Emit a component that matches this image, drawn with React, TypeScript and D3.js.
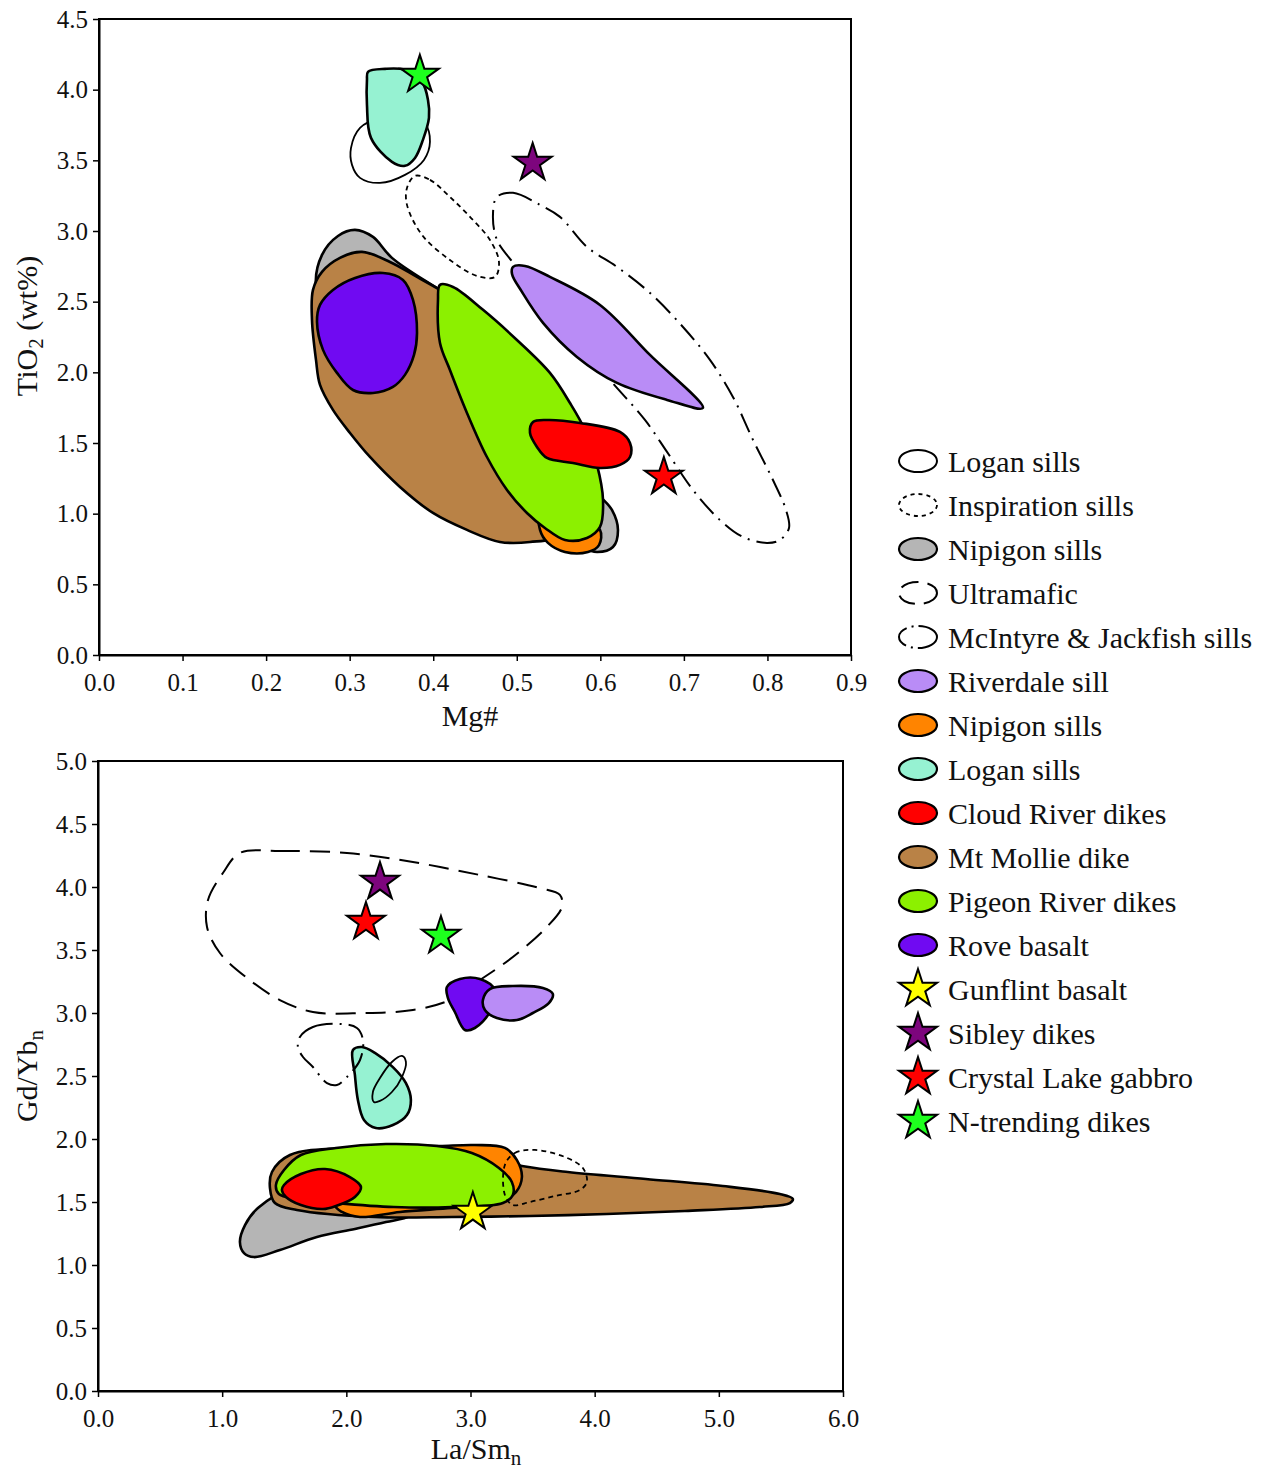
import React, { useRef, useEffect } from 'react';
import * as d3 from 'd3';

type Pt = [number, number];

// ---------- top panel: TiO2 (wt%) vs Mg# ----------
const topXTicks = [0, 0.1, 0.2, 0.3, 0.4, 0.5, 0.6, 0.7, 0.8, 0.9];
const topYTicks = [0, 0.5, 1.0, 1.5, 2.0, 2.5, 3.0, 3.5, 4.0, 4.5];

const topLoganOpen: Pt[] = [
  [0.3016, 3.588], [0.3124, 3.73], [0.3363, 3.8], [0.3662, 3.822], [0.3901, 3.758], [0.3961, 3.631],
  [0.3889, 3.503], [0.3662, 3.397], [0.3363, 3.34], [0.3124, 3.376], [0.3028, 3.468],
];
const topInspiration: Pt[] = [
  [0.3782, 3.39], [0.3961, 3.362], [0.42, 3.241], [0.444, 3.1], [0.4679, 2.937], [0.4787, 2.781],
  [0.4739, 2.675], [0.4524, 2.682], [0.42, 2.795], [0.3866, 2.972], [0.3686, 3.185], [0.3686, 3.305],
];
const topMcIntyre: Pt[] = [
  [0.4763, 3.241], [0.4955, 3.27], [0.5278, 3.185], [0.5517, 3.1], [0.584, 2.887], [0.6199, 2.746],
  [0.6594, 2.562], [0.6989, 2.321], [0.7312, 2.088], [0.7587, 1.826], [0.7827, 1.522], [0.8066, 1.238],
  [0.8222, 1.026], [0.8258, 0.899], [0.815, 0.814], [0.7994, 0.793], [0.7707, 0.835], [0.7432, 0.955],
  [0.7109, 1.168], [0.6798, 1.437], [0.6534, 1.663], [0.6115, 1.946], [0.5517, 2.371], [0.4978, 2.76],
  [0.4763, 2.937], [0.4715, 3.114],
];
const topNipigonGray: Pt[] = [
  [0.2597, 2.618], [0.2669, 2.831], [0.286, 2.965], [0.3064, 3.008], [0.3279, 2.958], [0.3506, 2.81],
  [0.456, 2.371], [0.5517, 1.663], [0.5936, 1.168], [0.6139, 1.026], [0.6211, 0.885], [0.6151, 0.764],
  [0.596, 0.729], [0.57, 0.78], [0.5, 0.98], [0.4, 1.35], [0.32, 1.85], [0.28, 2.3],
];
const topMtMollie: Pt[] = [
  [0.2561, 2.583], [0.2669, 2.711], [0.2884, 2.81], [0.3147, 2.852], [0.3483, 2.781], [0.3806, 2.675],
  [0.4081, 2.583], [0.444, 2.442], [0.5158, 1.663], [0.5577, 1.097], [0.5517, 0.849], [0.5158, 0.8],
  [0.4799, 0.8], [0.4404, 0.885], [0.3997, 1.005], [0.3602, 1.189], [0.3243, 1.401], [0.3004, 1.571],
  [0.28, 1.734], [0.2645, 1.911], [0.2597, 2.088], [0.2549, 2.371],
];
const topRove: Pt[] = [
  [0.2609, 2.357], [0.2645, 2.477], [0.28, 2.583], [0.3064, 2.668], [0.3399, 2.703], [0.3638, 2.654],
  [0.3758, 2.512], [0.3806, 2.279], [0.377, 2.123], [0.3662, 1.982], [0.3518, 1.897], [0.3279, 1.854],
  [0.304, 1.875], [0.2848, 1.996], [0.2681, 2.159],
];
const topNipigonOrange: Pt[] = [
  [0.5278, 0.991], [0.5756, 0.955], [0.5996, 0.885], [0.5984, 0.778], [0.5852, 0.729], [0.5577, 0.729],
  [0.5373, 0.793], [0.5278, 0.885],
];
const topPigeon: Pt[] = [
  [0.4081, 2.619], [0.4237, 2.604], [0.4596, 2.442], [0.5002, 2.229], [0.5397, 1.996], [0.5637, 1.783],
  [0.5816, 1.592], [0.596, 1.345], [0.6032, 1.097], [0.5996, 0.906], [0.584, 0.828], [0.5577, 0.814],
  [0.5337, 0.899], [0.5122, 1.005], [0.4883, 1.168], [0.4643, 1.401], [0.4404, 1.713], [0.42, 2.017],
  [0.4081, 2.208], [0.4057, 2.512],
];
const topCloudRiver: Pt[] = [
  [0.5194, 1.649], [0.5373, 1.663], [0.5756, 1.642], [0.6235, 1.578], [0.6355, 1.5], [0.6355, 1.401],
  [0.6235, 1.345], [0.5996, 1.323], [0.5673, 1.359], [0.5361, 1.394], [0.5242, 1.472], [0.5158, 1.571],
];
const topRiverdale: Pt[] = [
  [0.4955, 2.746], [0.5098, 2.753], [0.5397, 2.675], [0.5996, 2.477], [0.6594, 2.123], [0.7228, 1.748],
  [0.6798, 1.805], [0.6199, 1.925], [0.572, 2.109], [0.5314, 2.35], [0.5062, 2.569], [0.4943, 2.696],
];
const topLoganTeal: Pt[] = [
  [0.3219, 4.126], [0.3423, 4.147], [0.3662, 4.14], [0.3866, 4.055], [0.3937, 3.928], [0.3949, 3.8],
  [0.3877, 3.645], [0.3782, 3.517], [0.3662, 3.461], [0.3506, 3.489], [0.3255, 3.659], [0.3207, 3.892],
  [0.3207, 4.069],
];
const topStars = [
  { key: 'ntrend', x: 0.384, y: 4.105 },
  { key: 'sibley', x: 0.519, y: 3.482 },
  { key: 'crystal', x: 0.676, y: 1.26 },
];

// ---------- bottom panel: Gd/Yb_n vs La/Sm_n ----------
const botXTicks = [0, 1, 2, 3, 4, 5, 6];
const botYTicks = [0, 0.5, 1.0, 1.5, 2.0, 2.5, 3.0, 3.5, 4.0, 4.5, 5.0];

const botUltramafic: Pt[] = [
  [1.143, 4.27], [1.465, 4.286], [2.005, 4.27], [2.536, 4.198], [3.076, 4.095], [3.559, 3.992],
  [3.72, 3.937], [3.736, 3.841], [3.615, 3.683], [3.341, 3.444], [3.076, 3.262], [2.834, 3.103],
  [2.536, 3.024], [2.134, 3.0], [1.731, 3.008], [1.465, 3.103], [1.2, 3.278], [0.982, 3.476],
  [0.878, 3.683], [0.886, 3.897], [1.006, 4.111],
];
const botMcIntyre: Pt[] = [
  [1.626, 2.81], [1.731, 2.889], [1.948, 2.913], [2.085, 2.881], [2.134, 2.786], [2.11, 2.627],
  [2.005, 2.492], [1.924, 2.429], [1.844, 2.444], [1.731, 2.571], [1.651, 2.651], [1.61, 2.73],
];
const botLoganTeal: Pt[] = [
  [2.053, 2.706], [2.126, 2.73], [2.23, 2.683], [2.375, 2.571], [2.48, 2.444], [2.52, 2.31],
  [2.488, 2.19], [2.375, 2.111], [2.238, 2.087], [2.142, 2.151], [2.093, 2.31], [2.069, 2.508],
];
const botLoganOpen: Pt[] = [
  [2.448, 2.659], [2.367, 2.611], [2.271, 2.484], [2.214, 2.373], [2.222, 2.294], [2.271, 2.302],
  [2.367, 2.373], [2.448, 2.492], [2.48, 2.611],
];
const botRove: Pt[] = [
  [2.81, 3.206], [2.915, 3.27], [3.076, 3.27], [3.196, 3.183], [3.156, 3.008], [3.035, 2.881],
  [2.955, 2.865], [2.874, 3.008], [2.818, 3.119],
];
const botRiverdale: Pt[] = [
  [3.1, 3.103], [3.156, 3.19], [3.341, 3.214], [3.583, 3.198], [3.663, 3.151], [3.631, 3.079],
  [3.502, 3.0], [3.374, 2.944], [3.213, 2.96], [3.116, 3.024],
];
const botNipigonGray: Pt[] = [
  [1.288, 1.452], [1.184, 1.317], [1.143, 1.183], [1.176, 1.095], [1.256, 1.063], [1.465, 1.119],
  [1.763, 1.222], [2.069, 1.286], [2.319, 1.341], [2.512, 1.389], [2.592, 1.476], [2.029, 1.556],
  [1.546, 1.595],
];
const botMtMollie: Pt[] = [
  [1.385, 1.611], [1.425, 1.492], [1.602, 1.437], [2.23, 1.381], [2.85, 1.381], [3.478, 1.389],
  [4.098, 1.405], [4.726, 1.429], [5.33, 1.46], [5.572, 1.492], [5.596, 1.524], [5.491, 1.563],
  [5.032, 1.627], [4.412, 1.683], [3.784, 1.738], [3.414, 1.786], [2.834, 1.913], [2.029, 1.929],
  [1.546, 1.873], [1.401, 1.738],
];
const botNipigonOrange: Pt[] = [
  [2.432, 1.937], [2.754, 1.944], [3.035, 1.952], [3.277, 1.929], [3.374, 1.833], [3.414, 1.698],
  [3.366, 1.579], [3.196, 1.484], [2.85, 1.452], [2.432, 1.421], [2.11, 1.381], [1.965, 1.421],
  [1.908, 1.476], [2.029, 1.754],
];
const botPigeon: Pt[] = [
  [1.433, 1.635], [1.498, 1.754], [1.634, 1.873], [1.916, 1.929], [2.319, 1.96], [2.729, 1.944],
  [3.011, 1.889], [3.229, 1.77], [3.333, 1.659], [3.341, 1.556], [3.261, 1.492], [2.85, 1.46],
  [2.383, 1.46], [1.916, 1.492], [1.602, 1.524], [1.457, 1.563],
];
const botCloudRiver: Pt[] = [
  [1.498, 1.635], [1.634, 1.722], [1.828, 1.762], [2.029, 1.698], [2.118, 1.619], [2.069, 1.54],
  [1.916, 1.468], [1.812, 1.444], [1.634, 1.476], [1.514, 1.54], [1.481, 1.595],
];
const botInspiration: Pt[] = [
  [3.277, 1.794], [3.357, 1.889], [3.518, 1.913], [3.76, 1.857], [3.905, 1.77], [3.937, 1.659],
  [3.881, 1.595], [3.68, 1.548], [3.478, 1.5], [3.341, 1.476], [3.277, 1.556],
];
const botStars = [
  { key: 'sibley', x: 2.271, y: 4.04 },
  { key: 'crystal', x: 2.158, y: 3.722 },
  { key: 'ntrend', x: 2.762, y: 3.611 },
  { key: 'gunflint', x: 3.019, y: 1.421 },
];

// ---------- legend ----------
const legendKeys = [
  'loganOpen', 'inspiration', 'nipigonGray', 'ultramafic', 'mcintyre', 'riverdale', 'nipigonOrange',
  'loganTeal', 'cloud', 'mollie', 'pigeon', 'rove', 'gunflint', 'sibley', 'crystal', 'ntrend',
];
const legendLabels = [
  'Logan sills', 'Inspiration sills', 'Nipigon sills', 'Ultramafic', 'McIntyre & Jackfish sills',
  'Riverdale sill', 'Nipigon sills', 'Logan sills', 'Cloud River dikes', 'Mt Mollie dike',
  'Pigeon River dikes', 'Rove basalt', 'Gunflint basalt', 'Sibley dikes', 'Crystal Lake gabbro',
  'N-trending dikes',
];

const STYLE: Record<string, { fill: string; width: number; dash?: string; star?: boolean }> = {
  loganOpen: { fill: 'none', width: 1.8 },
  inspiration: { fill: 'none', width: 1.8, dash: '5,4' },
  nipigonGray: { fill: '#b5b5b5', width: 2.6 },
  ultramafic: { fill: 'none', width: 2, dash: '20,10' },
  mcintyre: { fill: 'none', width: 2, dash: '20,7,2,7' },
  riverdale: { fill: '#b98cf6', width: 2.6 },
  nipigonOrange: { fill: '#ff8400', width: 2.6 },
  loganTeal: { fill: '#96f2d2', width: 2.6 },
  cloud: { fill: '#ff0000', width: 2.6 },
  mollie: { fill: '#b98246', width: 2.6 },
  pigeon: { fill: '#8cf000', width: 2.6 },
  rove: { fill: '#700af2', width: 2.6 },
  gunflint: { fill: '#ffff00', width: 2, star: true },
  sibley: { fill: '#7d057d', width: 2, star: true },
  crystal: { fill: '#ff0000', width: 2, star: true },
  ntrend: { fill: '#1eff1e', width: 2, star: true },
};

const FONT = '"Liberation Serif", "Times New Roman", serif';
const starPath = d3.symbol(d3.symbolStar, 400 / 0.8908130915292852)();

const App = () => {
  const svgRef = useRef<SVGSVGElement>(null);

  useEffect(() => {
    const svg = d3.select(svgRef.current);
    svg.selectAll('*').remove();

    const outline = (sel: any, key: string) => {
      const s = STYLE[key];
      sel.attr('fill', s.fill).attr('stroke', '#000').attr('stroke-width', s.width)
        .attr('stroke-linejoin', 'round');
      if (s.dash) sel.attr('stroke-dasharray', s.dash);
      return sel;
    };

    const drawPanel = (cfg: any) => {
      const { x, y, xTicks, yTicks, fields, stars } = cfg;
      const g = svg.append('g');
      const line = d3.line<Pt>()
        .x(d => x(d[0]))
        .y(d => y(d[1]))
        .curve(d3.curveCatmullRomClosed.alpha(0.5));

      // regions
      fields.forEach(([key, pts]: [string, Pt[]]) => {
        outline(g.append('path').attr('d', line(pts)), key);
      });

      // stars
      stars.forEach((s: any) => {
        g.append('path')
          .attr('d', starPath)
          .attr('transform', `translate(${x(s.x)},${y(s.y)})`)
          .attr('fill', STYLE[s.key].fill)
          .attr('stroke', '#000')
          .attr('stroke-width', 2)
          .attr('stroke-linejoin', 'miter');
      });

      // frame
      const [x0, x1] = x.range();
      const [y0, y1] = y.range();
      g.append('rect')
        .attr('x', x0).attr('y', y1).attr('width', x1 - x0).attr('height', y0 - y1)
        .attr('fill', 'none').attr('stroke', '#000').attr('stroke-width', 2);

      const fmt = d3.format('.1f');
      const xa = g.append('g').attr('transform', `translate(0,${y0})`)
        .call(d3.axisBottom(x).tickValues(xTicks).tickFormat(fmt).tickSize(6).tickSizeOuter(0).tickPadding(12));
      const ya = g.append('g').attr('transform', `translate(${x0},0)`)
        .call(d3.axisLeft(y).tickValues(yTicks).tickFormat(fmt).tickSize(6).tickSizeOuter(0).tickPadding(5));
      [xa, ya].forEach(a => {
        a.select('.domain').attr('stroke-width', 2);
        a.selectAll('.tick line').attr('stroke-width', 1.5);
        a.selectAll('text').attr('font-family', FONT).attr('font-size', 25).attr('fill', '#111');
      });
      return g;
    };

    // top panel
    const topX = d3.scaleLinear().domain([0, 0.9]).range([99, 851]);
    const topY = d3.scaleLinear().domain([0, 4.5]).range([655, 19]);
    drawPanel({
      x: topX, y: topY, xTicks: topXTicks, yTicks: topYTicks,
      fields: [
        ['loganOpen', topLoganOpen], ['inspiration', topInspiration], ['mcintyre', topMcIntyre],
        ['nipigonGray', topNipigonGray], ['mollie', topMtMollie], ['rove', topRove],
        ['nipigonOrange', topNipigonOrange], ['pigeon', topPigeon], ['cloud', topCloudRiver],
        ['riverdale', topRiverdale], ['loganTeal', topLoganTeal],
      ],
      stars: topStars,
    });

    // bottom panel
    const botX = d3.scaleLinear().domain([0, 6]).range([98, 843]);
    const botY = d3.scaleLinear().domain([0, 5]).range([1391, 761]);
    drawPanel({
      x: botX, y: botY, xTicks: botXTicks, yTicks: botYTicks,
      fields: [
        ['ultramafic', botUltramafic], ['nipigonGray', botNipigonGray], ['mollie', botMtMollie],
        ['nipigonOrange', botNipigonOrange], ['pigeon', botPigeon], ['cloud', botCloudRiver],
        ['loganTeal', botLoganTeal], ['rove', botRove], ['riverdale', botRiverdale],
        ['mcintyre', botMcIntyre], ['loganOpen', botLoganOpen], ['inspiration', botInspiration],
      ],
      stars: botStars,
    });

    // axis titles
    const title = (tx: number, ty: number, rot: number, main: string, sub: string, rest = '') => {
      const t = svg.append('text')
        .attr('transform', `translate(${tx},${ty}) rotate(${rot})`)
        .attr('text-anchor', 'middle')
        .attr('font-family', FONT).attr('font-size', 30).attr('fill', '#111');
      t.append('tspan').text(main);
      if (sub) t.append('tspan').attr('font-size', 21).attr('dy', 6).text(sub);
      if (rest) t.append('tspan').attr('dy', -6).text(rest);
    };
    title(37, 326, -90, 'TiO', '2', ' (wt%)');
    svg.append('text').attr('x', 470).attr('y', 726).attr('text-anchor', 'middle')
      .attr('font-family', FONT).attr('font-size', 30).attr('fill', '#111').text('Mg#');
    title(37, 1076, -90, 'Gd/Yb', 'n');
    title(476, 1459, 0, 'La/Sm', 'n');

    // legend
    const lg = svg.append('g');
    legendKeys.forEach((key, i) => {
      const cy = 461 + i * 44;
      const s = STYLE[key];
      if (s.star) {
        lg.append('path').attr('d', starPath).attr('transform', `translate(918,${cy})`)
          .attr('fill', s.fill).attr('stroke', '#000').attr('stroke-width', 2);
      } else {
        const e = lg.append('ellipse').attr('cx', 918).attr('cy', cy).attr('rx', 19).attr('ry', 11);
        outline(e, key);
        if (key === 'ultramafic') e.attr('stroke-dasharray', '18,9');
        if (key === 'mcintyre') e.attr('stroke-dasharray', '24,5,2,5');
        if (key === 'inspiration') e.attr('stroke-dasharray', '4,4');
        if (!s.dash && s.fill === 'none') e.attr('stroke-width', 2);
        if (s.fill !== 'none') e.attr('stroke-width', 2.2);
      }
      lg.append('text').attr('x', 948).attr('y', cy).attr('dy', '0.35em')
        .attr('font-family', FONT).attr('font-size', 30).attr('fill', '#111')
        .text(legendLabels[i]);
    });
  }, []);

  return (
    <svg ref={svgRef} width={1267} height={1473}
      style={{ position: 'absolute', left: 0, top: 0, background: '#fff' }} />
  );
};

export default App;
